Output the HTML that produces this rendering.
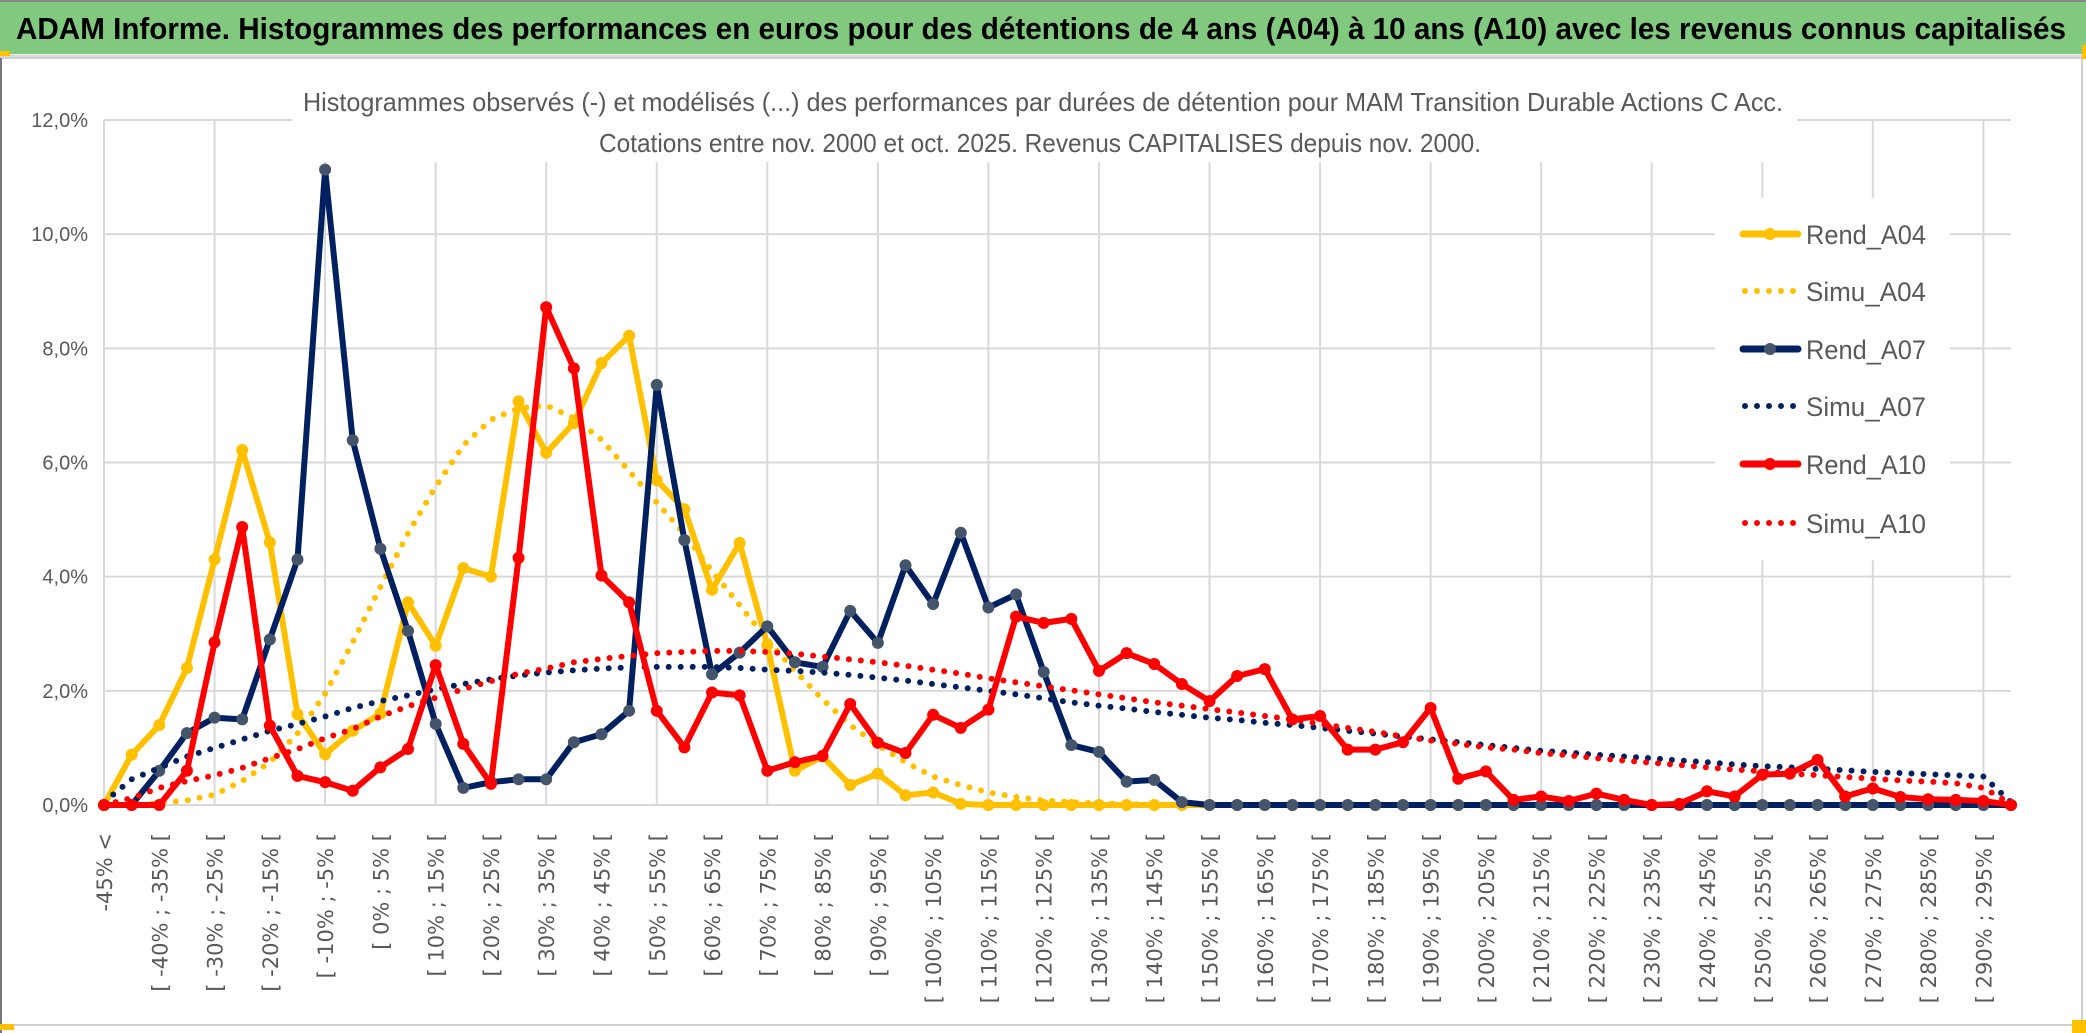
<!DOCTYPE html>
<html><head><meta charset="utf-8"><title>ADAM Informe histogrammes</title>
<style>
html,body{margin:0;padding:0;background:#fff;}
svg{display:block;}
</style></head>
<body>
<svg id="chart" xmlns="http://www.w3.org/2000/svg" width="2086" height="1033" viewBox="0 0 2086 1033">
  <rect x="0" y="0" width="2086" height="1033" fill="#ffffff"/>
  <rect x="0" y="2" width="2086" height="52" fill="#80c97e"/>
  <line x1="0" y1="1" x2="2086" y2="1" stroke="#888" stroke-width="2"/>
  <line x1="0" y1="56" x2="2086" y2="56" stroke="#d9d9d9" stroke-width="3"/>
  <rect x="1" y="58" width="2081" height="967" fill="none" stroke="#d0d0d0" stroke-width="2"/>
  <line x1="1" y1="58" x2="1" y2="1033" stroke="#777" stroke-width="2"/>
  <rect x="0" y="51" width="10" height="5" fill="#ffc000"/>
  <rect x="0" y="1024" width="14" height="6" fill="#ffc000"/>
  <rect x="2072" y="1020" width="14" height="13" fill="#ffc000"/>
  <rect x="2082" y="45" width="4" height="14" fill="#ffc000"/>
  <text x="16" y="39" font-family="Liberation Sans, sans-serif" font-weight="bold" font-size="31" fill="#000" textLength="2050" lengthAdjust="spacingAndGlyphs">ADAM Informe. Histogrammes des performances en euros pour des détentions de 4 ans (A04) à 10 ans (A10) avec les revenus connus capitalisés</text>
  <g id="grid"></g>
  <rect x="292" y="70" width="1505" height="92" fill="#ffffff"/>
  <text x="303" y="111" font-family="Liberation Sans, sans-serif" font-size="26" fill="#595959" textLength="1480" lengthAdjust="spacingAndGlyphs">Histogrammes observés (-) et modélisés (...) des performances par durées de détention pour MAM Transition Durable Actions C Acc.</text>
  <text x="599" y="152" font-family="Liberation Sans, sans-serif" font-size="26" fill="#595959" textLength="882" lengthAdjust="spacingAndGlyphs">Cotations entre nov. 2000 et oct. 2025. Revenus CAPITALISES depuis nov. 2000.</text>
  <g id="yaxis"></g>
  <g id="xaxis"></g>
  <rect x="1715" y="198" width="235" height="362" fill="#ffffff"/>
  <g id="series"></g>
  <g id="legend"></g>
</svg>
<script>
const categories = ["-45% <","[ -45% ; -40% [","[ -40% ; -35% [","[ -35% ; -30% [","[ -30% ; -25% [","[ -25% ; -20% [","[ -20% ; -15% [","[ -15% ; -10% [","[ -10% ; -5% [","[ -5% ; 0% [","[ 0% ; 5% [","[ 5% ; 10% [","[ 10% ; 15% [","[ 15% ; 20% [","[ 20% ; 25% [","[ 25% ; 30% [","[ 30% ; 35% [","[ 35% ; 40% [","[ 40% ; 45% [","[ 45% ; 50% [","[ 50% ; 55% [","[ 55% ; 60% [","[ 60% ; 65% [","[ 65% ; 70% [","[ 70% ; 75% [","[ 75% ; 80% [","[ 80% ; 85% [","[ 85% ; 90% [","[ 90% ; 95% [","[ 95% ; 100% [","[ 100% ; 105% [","[ 105% ; 110% [","[ 110% ; 115% [","[ 115% ; 120% [","[ 120% ; 125% [","[ 125% ; 130% [","[ 130% ; 135% [","[ 135% ; 140% [","[ 140% ; 145% [","[ 145% ; 150% [","[ 150% ; 155% [","[ 155% ; 160% [","[ 160% ; 165% [","[ 165% ; 170% [","[ 170% ; 175% [","[ 175% ; 180% [","[ 180% ; 185% [","[ 185% ; 190% [","[ 190% ; 195% [","[ 195% ; 200% [","[ 200% ; 205% [","[ 205% ; 210% [","[ 210% ; 215% [","[ 215% ; 220% [","[ 220% ; 225% [","[ 225% ; 230% [","[ 230% ; 235% [","[ 235% ; 240% [","[ 240% ; 245% [","[ 245% ; 250% [","[ 250% ; 255% [","[ 255% ; 260% [","[ 260% ; 265% [","[ 265% ; 270% [","[ 270% ; 275% [","[ 275% ; 280% [","[ 280% ; 285% [","[ 285% ; 290% [","[ 290% ; 295% [","[ 295% ; 300% ["];
const rendA04 = [0,0.88,1.4,2.4,4.3,6.22,4.6,1.59,0.89,1.3,1.6,3.55,2.79,4.15,4.0,7.07,6.17,6.69,7.74,8.22,5.69,5.18,3.77,4.59,2.8,0.6,0.85,0.35,0.55,0.17,0.22,0.02,0,0,0,0,0,0,0,0,0,0,0,0,0,0,0,0,0,0,0,0,0,0,0,0,0,0,0,0,0,0,0,0,0,0,0,0,0,0];
const simuA04 = [0,0,0.03,0.08,0.18,0.42,0.75,1.25,1.95,2.85,3.82,4.76,5.58,6.3,6.75,6.95,7.0,6.78,6.4,5.85,5.3,4.75,4.1,3.5,2.9,2.35,1.85,1.4,1.05,0.75,0.5,0.35,0.22,0.14,0.08,0.05,0.03,0.02,0,0,0,0,0,0,0,0,0,0,0,0,0,0,0,0,0,0,0,0,0,0,0,0,0,0,0,0,0,0,0,0];
const rendA07 = [0,0,0.6,1.26,1.53,1.5,2.9,4.3,11.13,6.39,4.49,3.05,1.42,0.3,0.4,0.45,0.45,1.1,1.24,1.65,7.36,4.64,2.29,2.67,3.13,2.5,2.42,3.4,2.84,4.2,3.52,4.77,3.46,3.69,2.33,1.05,0.93,0.41,0.44,0.05,0,0,0,0,0,0,0,0,0,0,0,0,0,0,0,0,0,0,0,0,0,0,0,0,0,0,0,0,0,0];
const simuA07 = [0.05,0.45,0.65,0.85,1.0,1.15,1.3,1.42,1.55,1.7,1.82,1.92,2.03,2.12,2.2,2.27,2.32,2.36,2.39,2.41,2.42,2.42,2.42,2.4,2.37,2.35,2.32,2.28,2.23,2.18,2.12,2.06,2.0,1.94,1.87,1.8,1.74,1.69,1.63,1.58,1.53,1.49,1.44,1.4,1.35,1.3,1.25,1.2,1.15,1.1,1.05,1.0,0.95,0.92,0.88,0.85,0.82,0.78,0.75,0.71,0.68,0.66,0.63,0.61,0.58,0.56,0.54,0.52,0.5,0.05];
const rendA10 = [0,0,0,0.6,2.85,4.87,1.39,0.51,0.4,0.25,0.66,0.98,2.45,1.07,0.37,4.33,8.72,7.65,4.02,3.55,1.65,1.01,1.97,1.92,0.6,0.75,0.86,1.77,1.09,0.91,1.58,1.35,1.67,3.3,3.19,3.26,2.35,2.66,2.47,2.12,1.82,2.26,2.38,1.5,1.56,0.97,0.97,1.1,1.7,0.46,0.59,0.09,0.15,0.07,0.2,0.09,0,0.02,0.24,0.15,0.53,0.55,0.79,0.15,0.29,0.14,0.1,0.09,0.07,0];
const simuA10 = [0,0.12,0.3,0.42,0.52,0.65,0.82,0.98,1.17,1.33,1.55,1.73,1.88,2.03,2.17,2.3,2.39,2.5,2.56,2.61,2.66,2.68,2.7,2.7,2.68,2.65,2.6,2.55,2.5,2.44,2.37,2.3,2.22,2.15,2.08,2.01,1.94,1.87,1.8,1.74,1.68,1.62,1.56,1.5,1.42,1.35,1.28,1.2,1.13,1.07,1.01,0.97,0.91,0.87,0.82,0.78,0.74,0.7,0.66,0.62,0.59,0.55,0.52,0.49,0.46,0.43,0.41,0.38,0.3,0.02];
const yTicks = [0,2,4,6,8,10,12];
const yTickLabels = ["0,0%","2,0%","4,0%","6,0%","8,0%","10,0%","12,0%"];

const NS = "http://www.w3.org/2000/svg";
const X0 = 104, X1 = 2011, Y0 = 805, YTOP = 120, YMAX = 12;
function xPos(i){ return X0 + (X1 - X0) * i / (categories.length - 1); }
function yPos(v){ return Y0 - (Y0 - YTOP) * v / YMAX; }
function mk(tag, attrs, parent){
  const e = document.createElementNS(NS, tag);
  for (const k in attrs) e.setAttribute(k, attrs[k]);
  parent.appendChild(e);
  return e;
}
const grid = document.getElementById('grid');
const yaxis = document.getElementById('yaxis');
const xaxis = document.getElementById('xaxis');
const seriesG = document.getElementById('series');
const legendG = document.getElementById('legend');

yTicks.forEach((t, k) => {
  const gl = mk('line', {x1: X0, x2: X1, y1: yPos(t), y2: yPos(t), stroke: '#d9d9d9', 'stroke-width': 2}, grid);
  
  
  const tx = mk('text', {x: 88, y: yPos(t) + 7, 'text-anchor': 'end', 'font-family': 'Liberation Sans, sans-serif', 'font-size': 20, fill: '#595959'}, yaxis);
  tx.textContent = yTickLabels[k];
  
  
});
for (let i = 0; i < categories.length; i += 4) {
  const vl = mk('line', {x1: xPos(i), x2: xPos(i), y1: YTOP, y2: Y0, stroke: '#d9d9d9', 'stroke-width': 2}, grid);
  
  
}
for (let i = 0; i < categories.length; i += 2) {
  const x = xPos(i) + 8, y = 833;
  const tx = mk('text', {x: x, y: y, transform: 'rotate(-90 ' + x + ' ' + y + ')', 'text-anchor': 'end', 'font-family': 'DejaVu Sans, sans-serif', 'font-size': 21, fill: '#595959'}, xaxis);
  tx.textContent = categories[i];
  
  
}

function pointsOf(arr){ return arr.map((v, i) => xPos(i).toFixed(1) + ',' + yPos(v).toFixed(1)).join(' '); }

function drawRend(arr, color, marker, name){
  const g = mk('g', {}, seriesG);
  
  
  const pl = mk('polyline', {points: pointsOf(arr), fill: 'none', stroke: color, 'stroke-width': 6, 'stroke-linejoin': 'round'}, g);
  
  
  arr.forEach((v, i) => {
    const c = mk('circle', {cx: xPos(i), cy: yPos(v), r: 6, fill: marker}, g);
    
    
  });
}
function drawSimu(arr, color, name){
  const pl = mk('polyline', {points: pointsOf(arr), fill: 'none', stroke: color, 'stroke-width': 6, 'stroke-linecap': 'round', 'stroke-dasharray': '0 12'}, seriesG);
  
  
}
drawRend(rendA04, '#ffc000', '#ffc000', 'rend-a04');
drawSimu(simuA04, '#ffc000', 'simu-a04');
drawRend(rendA07, '#002060', '#44546a', 'rend-a07');
drawSimu(simuA07, '#002060', 'simu-a07');
drawRend(rendA10, '#ff0000', '#ff0000', 'rend-a10');
drawSimu(simuA10, '#ff0000', 'simu-a10');

const legendNames = ['Rend_A04','Simu_A04','Rend_A07','Simu_A07','Rend_A10','Simu_A10'];
const legendColors = ['#ffc000','#ffc000','#002060','#002060','#ff0000','#ff0000'];
const legendMarkers = ['#ffc000','','#44546a','','#ff0000',''];
const legendY = [234, 291, 349, 406, 464, 523];
legendNames.forEach((n, k) => {
  const g = mk('g', {}, legendG);
  
  
  const y = legendY[k];
  if (legendMarkers[k]) {
    mk('line', {x1: 1743, x2: 1798, y1: y, y2: y, stroke: legendColors[k], 'stroke-width': 7, 'stroke-linecap': 'round'}, g);
    mk('circle', {cx: 1770, cy: y, r: 6, fill: legendMarkers[k]}, g);
  } else {
    mk('line', {x1: 1745, x2: 1795, y1: y, y2: y, stroke: legendColors[k], 'stroke-width': 6, 'stroke-linecap': 'round', 'stroke-dasharray': '0 12'}, g);
  }
  const t = mk('text', {x: 1806, y: y + 10, 'font-family': 'Liberation Sans, sans-serif', 'font-size': 27, fill: '#595959', textLength: 120, lengthAdjust: 'spacingAndGlyphs'}, g);
  t.textContent = n;
});
</script>
</body></html>
